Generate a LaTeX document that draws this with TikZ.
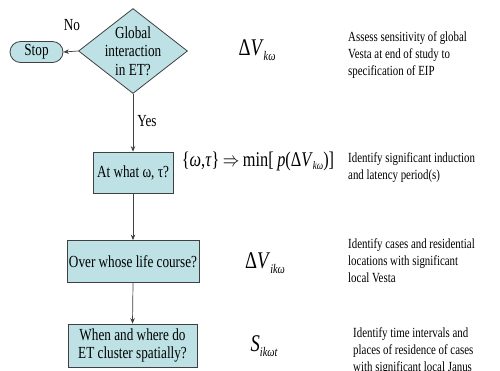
\documentclass[tikz,border=0pt]{standalone}
\usepackage{fontspec}
\setmainfont[FakeStretch=0.78]{Liberation Serif}
\usetikzlibrary{shapes.geometric,shapes.misc,arrows.meta}
\definecolor{boxfill}{HTML}{BDE1E4}
\definecolor{lineg}{HTML}{404040}
\newcommand{\mysubs}[2]{\raisebox{-#1}{\fontsize{0.55em}{1em}\selectfont\itshape #2}}
\begin{document}
\begin{tikzpicture}[x=1bp,y=-1bp,
  flowbox/.style={draw=lineg,line width=0.8pt,fill=boxfill,inner sep=0pt,align=center,
    font=\fontsize{17}{18.5}\selectfont},
  arr/.style={draw=lineg,line width=0.7pt,-{Stealth[length=5.5pt,width=4.5pt]}},
  lbl/.style={font=\fontsize{17}{18.5}\selectfont,inner sep=0pt},
  mathlbl/.style={inner sep=0pt},
  note/.style={anchor=base west,align=left,inner sep=0pt,font=\fontsize{14}{16.8}\selectfont}]
\useasboundingbox (0,0) rectangle (500,370);
% flow nodes
\node[flowbox,diamond,minimum width=109bp,minimum height=85bp] (d) at (133,51) {};
\node[align=center,inner sep=0pt,font=\fontsize{17}{18.5}\selectfont] (dt) at (d.center) {Global\\interaction\\in ET?};
\node[flowbox,rounded rectangle,minimum width=53bp,minimum height=21bp] (stop) at (36.5,52) {Stop};
\node[flowbox,rectangle,minimum width=80bp,minimum height=41bp] (b2) at (133,172.5) {At what ω, τ?};
\node[flowbox,rectangle,minimum width=132bp,minimum height=42bp] (b3) at (133,261.5) {Over whose life course?};
\node[flowbox,rectangle,minimum width=129bp,minimum height=43bp] (b4) at (132.5,345.5) {When and where do\\ET cluster spatially?};
% connectors
\draw[arr] (d.west) -- (stop.east);
\draw[arr] (d.south) -- (b2.north);
\draw[arr] (b2.south) -- (b3.north);
\draw[arr] (b3.south) -- (b4.north);
\node[lbl] (no) at (72,25) {No};
\node[lbl] (yes) at (147,121) {Yes};
% math
\node[mathlbl,font=\fontsize{24}{26}\selectfont] (m1) at (257,50) {Δ\textit{V}\mysubs{5bp}{kω}};
\node[mathlbl,font=\fontsize{21}{24}\selectfont] (m2) at (258,161) {\{\textit{ω},\textit{τ}\}\,\scalebox{0.8}[1]{$\Rightarrow$}\,min[\,\textit{p}(Δ\textit{V}\mysubs{3bp}{kω})]};
\node[mathlbl,font=\fontsize{24}{26}\selectfont] (m3) at (265,263) {Δ\textit{V}\mysubs{5bp}{ikω}};
\node[mathlbl,font=\fontsize{24}{26}\selectfont] (m4) at (264,346) {\textit{S}\mysubs{5bp}{ikωt}};
% notes (anchor = baseline of last line)
\node[note] (t1) at (348,75) {Assess sensitivity of global\\Vesta at end of study to\\specification of EIP};
\node[note] (t2) at (348,179) {Identify significant induction\\and latency period(s)};
\node[note] (t3) at (348,282) {Identify cases and residential\\locations with significant\\local Vesta};
\node[note] (t4) at (353,371) {Identify time intervals and\\places of residence of cases\\with significant local Janus};
\end{tikzpicture}
\end{document}
